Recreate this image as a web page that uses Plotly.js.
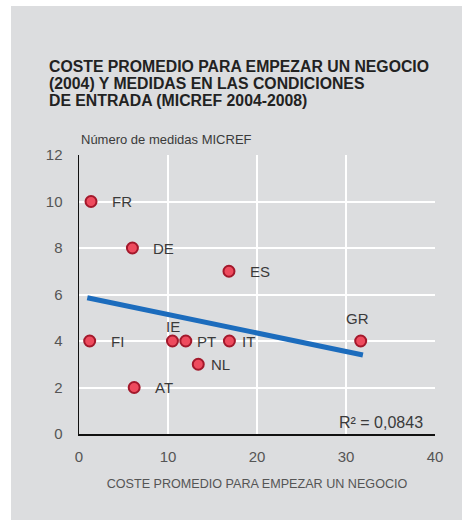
<!DOCTYPE html>
<html>
<head>
<meta charset="utf-8">
<script src="https://cdn.plot.ly/plotly-3.0.1.min.js"></script>
<style>
  html, body { margin: 0; padding: 0; background: #ffffff; width: 462px; height: 520px; overflow: hidden; }
  #chart { position: absolute; left: 11px; top: 6px; width: 451px; height: 514px; }
</style>
</head>
<body>
<div id="chart"></div>
<script>
// ---- data ----
const countries = ['FR', 'DE', 'ES', 'FI', 'IE', 'PT', 'IT', 'GR', 'NL', 'AT'];
const cost      = [1.35, 6.0, 16.85, 1.2, 10.5, 12.0, 16.9, 31.65, 13.4, 6.2];
const measures  = [10, 8, 7, 4, 4, 4, 4, 4, 3, 2];
const trendX    = [0.93, 31.9];
const trendY    = [5.86, 3.40];
const titleLines = [
  'COSTE PROMEDIO PARA EMPEZAR UN NEGOCIO',
  '(2004) Y MEDIDAS EN LAS CONDICIONES',
  'DE ENTRADA (MICREF 2004-2008)'
];
const yTitle = 'Número de medidas MICREF';
const xTitle = 'COSTE PROMEDIO PARA EMPEZAR UN NEGOCIO';
const r2Text = 'R² = 0,0843';
const xTicks = [0, 10, 20, 30, 40];
const yTicks = [0, 2, 4, 6, 8, 10, 12];

// label placement (style only): 'r' = right of marker, 't' = above marker
const labelSide   = ['r', 'r', 'r', 'r', 't', 'r', 'r', 't', 'r', 'r'];
const labelOffset = [21, 21, 21, 21, 15, 11, 13, 23, 13, 21];

const FONT = '"Liberation Sans", Arial, Helvetica, sans-serif';

const traces = [
  {
    type: 'scatter', mode: 'lines',
    x: trendX, y: trendY,
    line: { color: '#1c6cbd', width: 5 },
    hoverinfo: 'skip', showlegend: false
  },
  {
    type: 'scatter', mode: 'markers',
    x: cost, y: measures, text: countries,
    marker: { size: 11, color: '#ee4b5e', line: { color: '#a3182b', width: 2 } },
    showlegend: false
  }
];

const annotations = [];
titleLines.forEach((t, i) => {
  annotations.push({
    xref: 'paper', yref: 'paper', x: 0, y: 1,
    xanchor: 'left', yanchor: 'middle',
    xshift: -32, yshift: 88.5 - i * 17,
    text: t, showarrow: false,
    font: { family: FONT, size: 15.8, color: '#222222', weight: 'bold' }
  });
});
annotations.push({
  xref: 'paper', yref: 'paper', x: 0, y: 1,
  xanchor: 'left', yanchor: 'middle', xshift: 0, yshift: 15.5,
  text: yTitle, showarrow: false,
  font: { family: FONT, size: 13, color: '#3a3a3a' }
});
annotations.push({
  xref: 'paper', yref: 'paper', x: 1, y: 0,
  xanchor: 'right', yanchor: 'middle', xshift: -10, yshift: 12,
  text: r2Text, showarrow: false,
  font: { family: FONT, size: 16, color: '#3a3a3a' }
});
countries.forEach((c, i) => {
  const right = labelSide[i] === 'r';
  annotations.push({
    xref: 'x', yref: 'y', x: cost[i], y: measures[i],
    xanchor: right ? 'left' : 'center', yanchor: 'middle',
    xshift: right ? labelOffset[i] - 2 : (c === 'GR' ? -3 : 1),
    yshift: right ? 0 : labelOffset[i],
    text: c, showarrow: false,
    font: { family: FONT, size: 15, color: '#3a3a3a' }
  });
});

const layout = {
  width: 451, height: 514,
  margin: { l: 68, r: 27, t: 149, b: 86 },
  paper_bgcolor: '#dcdddf',
  plot_bgcolor: '#dcdddf',
  font: { family: FONT, color: '#555555' },
  showlegend: false,
  xaxis: {
    range: [0, 40], tickvals: xTicks, ticktext: xTicks.map(String),
    showgrid: true, gridcolor: '#ffffff', gridwidth: 2,
    zeroline: false, showline: true, linecolor: '#111111', linewidth: 1.5,
    ticks: 'outside', ticklen: 8, tickcolor: 'rgba(0,0,0,0)',
    tickfont: { family: FONT, size: 15, color: '#555555' },
    title: { text: xTitle, standoff: 15, font: { family: FONT, size: 12.6, color: '#555555' } },
    fixedrange: true
  },
  yaxis: {
    range: [0, 12], tickvals: yTicks, ticktext: yTicks.map(String),
    showgrid: true, gridcolor: '#ffffff', gridwidth: 2,
    zeroline: false, showline: true, linecolor: '#111111', linewidth: 1.5,
    ticks: 'outside', ticklen: 12, tickcolor: 'rgba(0,0,0,0)',
    tickfont: { family: FONT, size: 15, color: '#555555' },
    fixedrange: true
  },
  annotations: annotations
};

Plotly.newPlot('chart', traces, layout, { displayModeBar: false, staticPlot: true });
</script>
</body>
</html>
